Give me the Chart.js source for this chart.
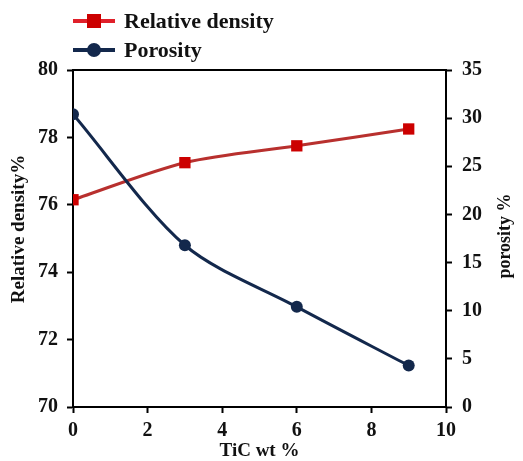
<!DOCTYPE html>
<html>
<head>
<meta charset="utf-8">
<script src="https://cdn.jsdelivr.net/npm/chart.js@4"></script>
<style>
  body { margin: 0; background: #fff; }
</style>
</head>
<body>
<canvas id="myChart" width="523" height="461"></canvas>
<script>
"use strict";
const ticWt = [0, 3, 6, 9];
const relativeDensity = [76.15, 77.25, 77.75, 78.25];
const porosity = [30.4, 16.8, 10.4, 4.3];
const seriesNames = ["Relative density", "Porosity"];

const serif = "'Liberation Serif', 'Times New Roman', serif";
const redLine = "#b8302e";
const redMark = "#cc0000";
const navy = "#13284c";

function upText(c, text, x, y, size) {
    c.save();
    c.translate(x, y);
    c.rotate(-Math.PI / 2);
    c.fillStyle = "#111";
    c.font = "bold " + size + "px " + serif;
    c.textAlign = "center";
    c.textBaseline = "middle";
    c.fillText(text, 0, 0);
    c.restore();
}

// legend with line + marker, top-left; plus box top and y titles
const legendPlugin = {
    id: "lineLegend",
    afterDraw(chart) {
        const c = chart.ctx;
        const rows = [
            { y: 21, color: "#e0202a", mark: redMark, style: "rect", text: seriesNames[0] },
            { y: 50, color: navy, mark: navy, style: "circle", text: seriesNames[1] }
        ];
        c.save();
        rows.forEach(function(r) {
            c.strokeStyle = r.color;
            c.lineWidth = 4;
            c.beginPath();
            c.moveTo(73, r.y);
            c.lineTo(115, r.y);
            c.stroke();
            c.fillStyle = r.mark;
            if (r.style === "rect") {
                c.fillRect(87, r.y - 7, 14, 14);
            } else {
                c.beginPath();
                c.arc(94, r.y, 7, 0, Math.PI * 2);
                c.fill();
            }
            c.fillStyle = "#111";
            c.font = "bold 22px " + serif;
            c.textAlign = "left";
            c.textBaseline = "middle";
            c.fillText(r.text, 124, r.y + 1);
        });
        const a = chart.chartArea;
        c.strokeStyle = "#000";
        c.lineWidth = 2;
        c.beginPath();
        c.moveTo(a.left, a.top);
        c.lineTo(a.right, a.top);
        c.stroke();
        c.restore();
        upText(c, "Relative density%", 19, 229, 19);
        upText(c, "porosity %", 505, 236, 18);
    }
};

window.addEventListener("load", function() {
    const ctx = document.getElementById("myChart");
    new Chart(ctx, {
        "type": "line",
        "data": {
            "datasets": [
                {
                    "label": seriesNames[0],
                    "data": ticWt.map((x, i) => ({ x: x, y: relativeDensity[i] })),
                    "yAxisID": "y",
                    "borderColor": redLine,
                    "borderWidth": 3,
                    "backgroundColor": redMark,
                    "pointStyle": "rect",
                    "pointRadius": 8,
                    "pointBorderWidth": 0,
                    "tension": 0.3,
                    "order": 1
                },
                {
                    "label": seriesNames[1],
                    "data": ticWt.map((x, i) => ({ x: x, y: porosity[i] })),
                    "yAxisID": "y1",
                    "borderColor": navy,
                    "borderWidth": 3,
                    "backgroundColor": navy,
                    "pointStyle": "circle",
                    "pointRadius": 6,
                    "pointBorderWidth": 0,
                    "tension": 0.3,
                    "order": 0
                }
            ]
        },
        "options": {
            "responsive": false,
            "animation": false,
            "layout": { "padding": { "top": 70, "left": 0, "right": 0, "bottom": 0 } },
            "plugins": {
                "legend": { "display": false },
                "tooltip": { "enabled": false }
            },
            "scales": {
                "x": {
                    "type": "linear",
                    "min": 0,
                    "max": 10,
                    "afterFit": function(s) { s.height = 54; },
                    "ticks": { "stepSize": 2, "color": "#111", "padding": 6, "font": { "family": serif, "size": 20, "weight": "bold" } },
                    "grid": { "drawOnChartArea": false, "tickLength": 6, "tickWidth": 2, "color": "#000" },
                    "border": { "color": "#000", "width": 2 },
                    "title": { "display": true, "text": "TiC wt %", "color": "#111", "padding": 0, "font": { "family": serif, "size": 19, "weight": "bold", "lineHeight": 1 } }
                },
                "y": {
                    "position": "left",
                    "min": 70,
                    "max": 80,
                    "afterFit": function(s) { s.width = 73; },
                    "ticks": { "stepSize": 2, "color": "#111", "padding": 9, "font": { "family": serif, "size": 20, "weight": "bold" } },
                    "grid": { "drawOnChartArea": false, "tickLength": 6, "tickWidth": 2, "color": "#000" },
                    "border": { "color": "#000", "width": 2 }
                },
                "y1": {
                    "position": "right",
                    "min": 0,
                    "max": 35,
                    "afterFit": function(s) { s.width = 77; },
                    "ticks": { "stepSize": 5, "color": "#111", "padding": 10, "font": { "family": serif, "size": 20, "weight": "bold" } },
                    "grid": { "drawOnChartArea": false, "tickLength": 6, "tickWidth": 2, "color": "#000" },
                    "border": { "color": "#000", "width": 2 }
                }
            }
        },
        "plugins": [legendPlugin]
    });
});
</script>
</body>
</html>
